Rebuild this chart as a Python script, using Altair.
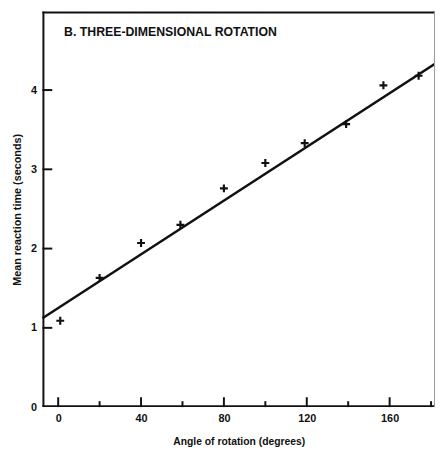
import altair as alt
import pandas as pd

# data
angle = [1, 20, 40, 59, 80, 100, 119, 139, 157, 174]
rt = [1.09, 1.63, 2.07, 2.30, 2.76, 3.08, 3.33, 3.57, 4.06, 4.18]
fit_x = [-7.6, 181.9]
fit_y = [1.12, 4.33]
x_major = [0, 40, 80, 120, 160]
x_minor = [20, 60, 100, 140, 180]
y_major = [1, 2, 3, 4]
y_labels = [0, 1, 2, 3, 4]

W, H = 399, 402
FONT = "Liberation Sans"
INK = "#111111"

xs = alt.Scale(domain=[-7.6, 181.9], nice=False, zero=False)
ys = alt.Scale(domain=[0, 4.99], nice=False, zero=False)

x_axis = alt.Axis(
    values=x_major, ticks=False, domain=False, grid=False,
    labelFont=FONT, labelFontSize=11, labelFontWeight="bold", labelColor=INK,
    labelPadding=6, title="Angle of rotation (degrees)", titleFont=FONT,
    titleFontSize=10.5, titleFontWeight="bold", titleColor=INK, titlePadding=13)
y_axis = alt.Axis(
    values=y_labels, ticks=False, domain=False, grid=False,
    labelFont=FONT, labelFontSize=11, labelFontWeight="bold", labelColor=INK,
    labelPadding=6, title="Mean reaction time (seconds)", titleFont=FONT,
    titleFontSize=11, titleFontWeight="bold", titleColor=INK, titlePadding=8)


def X(field="angle"):
    return alt.X(f"{field}:Q", scale=xs, axis=x_axis, title="Angle of rotation (degrees)")


def Y(field="rt"):
    return alt.Y(f"{field}:Q", scale=ys, axis=y_axis, title="Mean reaction time (seconds)")


pts = pd.DataFrame({"angle": angle, "rt": rt})
fit = pd.DataFrame({"angle": fit_x, "rt": fit_y})

plus = "M-1,0L1,0M0,-1L0,1"

points = alt.Chart(pts).mark_point(
    shape=plus, size=64, strokeWidth=2.2, color=INK, opacity=1, filled=False
).encode(x=X(), y=Y())

line = alt.Chart(fit).mark_line(color=INK, strokeWidth=2.5).encode(x=X(), y=Y())

xmaj = alt.Chart(pd.DataFrame({"angle": x_major})).mark_rule(color=INK, strokeWidth=2).encode(
    x=X(), y=alt.value(H), y2=alt.value(H - 10))
xmin = alt.Chart(pd.DataFrame({"angle": x_minor})).mark_rule(color=INK, strokeWidth=2).encode(
    x=X(), y=alt.value(H), y2=alt.value(H - 6))
ymaj = alt.Chart(pd.DataFrame({"rt": y_major})).mark_rule(color=INK, strokeWidth=2).encode(
    y=Y(), x=alt.value(0), x2=alt.value(10))

frame_left = alt.Chart(pd.DataFrame({"k": [0]})).mark_rule(color=INK, strokeWidth=2).encode(
    x=alt.value(1), y=alt.value(0), y2=alt.value(H))
frame_bottom = alt.Chart(pd.DataFrame({"k": [0]})).mark_rule(color=INK, strokeWidth=2).encode(
    x=alt.value(0), x2=alt.value(W), y=alt.value(H - 1))
frame_top = alt.Chart(pd.DataFrame({"k": [0]})).mark_rule(color=INK, strokeWidth=2).encode(
    x=alt.value(0), x2=alt.value(W), y=alt.value(1))
frame_right = alt.Chart(pd.DataFrame({"k": [0]})).mark_rule(color="#999999", strokeWidth=1).encode(
    x=alt.value(W - 0.5), y=alt.value(0), y2=alt.value(H))

chart = alt.layer(points, line, xmaj, xmin, ymaj,
                  frame_left, frame_bottom, frame_top, frame_right).properties(
    width=W, height=H,
    title=alt.TitleParams("B. THREE-DIMENSIONAL ROTATION", anchor="start", frame="group",
                          font=FONT, fontSize=12.5, fontWeight="bold", color=INK,
                          baseline="alphabetic", offset=0, dx=22, dy=38),
    autosize=alt.AutoSizeParams(type="none"),
    padding={"left": 35, "top": 0, "right": 0, "bottom": 43},
).configure_view(stroke=None)

chart.save("out.html", embed_options={"renderer": "svg", "actions": False})
